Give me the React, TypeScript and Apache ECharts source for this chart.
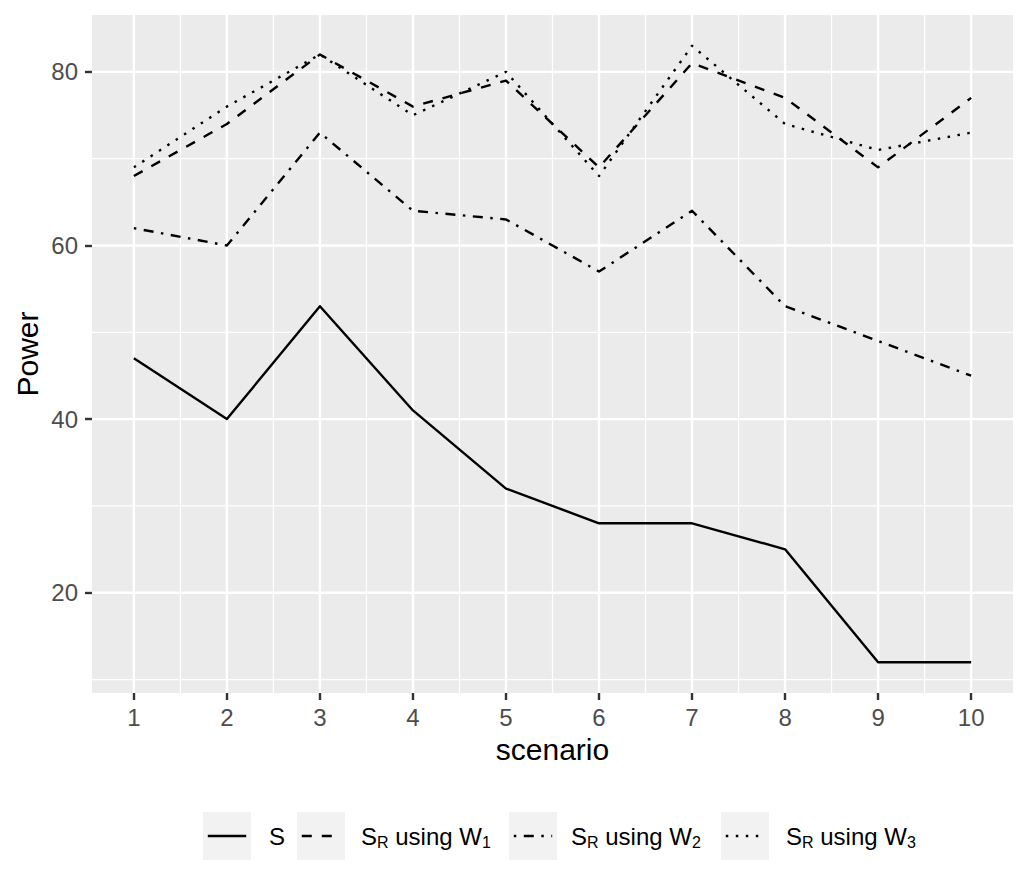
import React, { useEffect, useRef } from "react";
import * as echarts from "echarts";

// ---- data ----
const scenarios = [1, 2, 3, 4, 5, 6, 7, 8, 9, 10];
const powerS = [47, 40, 53, 41, 32, 28, 28, 25, 12, 12];
const powerW1 = [68, 74, 82, 76, 79, 69, 81, 77, 69, 77];
const powerW2 = [62, 60, 73, 64, 63, 57, 64, 53, 49, 45];
const powerW3 = [69, 76, 82, 75, 80, 68, 83, 74, 71, 73];

const xTickLabels = [1, 2, 3, 4, 5, 6, 7, 8, 9, 10];
const yTickLabels = [20, 40, 60, 80];
const xMinorGrid = [1.5, 2.5, 3.5, 4.5, 5.5, 6.5, 7.5, 8.5, 9.5];
const yMinorGrid = [10, 30, 50, 70];
const xRange = [0.55, 10.45];
const yRange = [8.45, 86.55];

const seriesNames = ["S", "S_R using W_1", "S_R using W_2", "S_R using W_3"];
const seriesValues = [powerS, powerW1, powerW2, powerW3];
const seriesDash: (number[] | null)[] = [null, [10, 10], [2.5, 7.5, 10, 7.5], [2.5, 7.5]];

const FONT = "'Liberation Sans', Arial, Helvetica, sans-serif";
const LW = 2.4;

function richLabel(name: string): string {
  // "S_R using W_1" -> rich text with subscripts
  const m = name.match(/^S_R using W_(\d)$/);
  if (!m) return `{n|${name}}`;
  return `{n|S}{s|R}{n| using W}{s|${m[1]}}`;
}

export default function App() {
  const ref = useRef<HTMLDivElement>(null);

  useEffect(() => {
    if (!ref.current) return;
    const chart = echarts.init(ref.current, undefined, { renderer: "svg" });

    const gridLeft = 92;
    const gridTop = 15;
    const gridWidth = 921;
    const gridHeight = 678;

    const vLine = (width: number) => (params: any, api: any) => {
      const cs = params.coordSys;
      const x = api.coord([api.value(0), api.value(1)])[0];
      return {
        type: "line",
        shape: { x1: x, y1: cs.y, x2: x, y2: cs.y + cs.height },
        style: { stroke: "#FFFFFF", lineWidth: width },
      };
    };
    const hLine = (width: number) => (params: any, api: any) => {
      const cs = params.coordSys;
      const y = api.coord([api.value(0), api.value(1)])[1];
      return {
        type: "line",
        shape: { x1: cs.x, y1: y, x2: cs.x + cs.width, y2: y },
        style: { stroke: "#FFFFFF", lineWidth: width },
      };
    };

    const legendKeyX = [203, 297, 509, 721];
    const legendLabelX = [269, 361, 571, 786];
    const legendY = 812;
    const keySize = 48;

    const legendGraphics: any[] = [];
    seriesNames.forEach((name, i) => {
      const kx = legendKeyX[i];
      legendGraphics.push({
        type: "rect",
        shape: { x: kx, y: legendY, width: keySize, height: keySize },
        style: { fill: "#F2F2F2" },
        silent: true,
      });
      legendGraphics.push({
        type: "line",
        shape: { x1: kx + 4.8, y1: legendY + keySize / 2, x2: kx + keySize - 4.8, y2: legendY + keySize / 2 },
        style: {
          stroke: "#000000",
          lineWidth: LW,
          lineDash: seriesDash[i] || undefined,
          lineCap: "butt",
        },
        silent: true,
      });
      legendGraphics.push({
        type: "text",
        x: legendLabelX[i],
        y: legendY + keySize / 2,
        style: {
          text: richLabel(name),
          align: "left",
          verticalAlign: "middle",
          fill: "#000000",
          rich: {
            n: { fontSize: 24, fontFamily: FONT, fill: "#000000", lineHeight: 28 },
            s: { fontSize: 16, fontFamily: FONT, fill: "#000000", lineHeight: 16, verticalAlign: "bottom" },
          },
        },
        silent: true,
      });
    });

    const option: any = {
      animation: false,
      backgroundColor: "#FFFFFF",
      grid: {
        left: gridLeft,
        top: gridTop,
        width: gridWidth,
        height: gridHeight,
        containLabel: false,
        show: true,
        backgroundColor: "#EBEBEB",
        borderWidth: 0,
      },
      xAxis: {
        type: "value",
        min: xRange[0],
        max: xRange[1],
        axisLine: { show: false },
        splitLine: { show: false },
        axisTick: {
          show: true,
          customValues: xTickLabels,
          length: 7,
          lineStyle: { color: "#333333", width: LW },
        },
        axisLabel: {
          customValues: xTickLabels,
          margin: 12,
          fontSize: 24,
          fontFamily: FONT,
          color: "#4D4D4D",
        },
      },
      yAxis: {
        type: "value",
        min: yRange[0],
        max: yRange[1],
        axisLine: { show: false },
        splitLine: { show: false },
        axisTick: {
          show: true,
          customValues: yTickLabels,
          length: 7,
          lineStyle: { color: "#333333", width: LW },
        },
        axisLabel: {
          customValues: yTickLabels,
          margin: 14,
          fontSize: 24,
          fontFamily: FONT,
          color: "#4D4D4D",
        },
      },
      series: [
        {
          type: "custom",
          name: "minor-x",
          z: 1,
          silent: true,
          renderItem: vLine(1.2),
          data: xMinorGrid.map((v) => [v, yRange[0]]),
          encode: { x: 0, y: 1 },
        },
        {
          type: "custom",
          name: "minor-y",
          z: 1,
          silent: true,
          renderItem: hLine(1.2),
          data: yMinorGrid.map((v) => [xRange[0], v]),
          encode: { x: 0, y: 1 },
        },
        {
          type: "custom",
          name: "major-x",
          z: 1,
          silent: true,
          renderItem: vLine(2.4),
          data: xTickLabels.map((v) => [v, yRange[0]]),
          encode: { x: 0, y: 1 },
        },
        {
          type: "custom",
          name: "major-y",
          z: 1,
          silent: true,
          renderItem: hLine(2.4),
          data: yTickLabels.map((v) => [xRange[0], v]),
          encode: { x: 0, y: 1 },
        },
        ...seriesNames.map((name, i) => ({
          type: "line",
          name,
          z: 3,
          data: scenarios.map((x, j) => [x, seriesValues[i][j]]),
          showSymbol: false,
          symbol: "none",
          lineStyle: {
            color: "#000000",
            width: LW,
            type: seriesDash[i] || "solid",
            cap: "butt",
            join: "round",
          },
          emphasis: { disabled: true },
        })),
      ],
      graphic: [
        {
          type: "text",
          x: gridLeft + gridWidth / 2,
          y: 749,
          style: {
            text: "scenario",
            fontSize: 30,
            fontFamily: FONT,
            fill: "#000000",
            align: "center",
            verticalAlign: "middle",
          },
          silent: true,
        },
        {
          type: "text",
          x: 27,
          y: gridTop + gridHeight / 2,
          rotation: Math.PI / 2,
          style: {
            text: "Power",
            fontSize: 30,
            fontFamily: FONT,
            fill: "#000000",
            align: "center",
            verticalAlign: "middle",
          },
          silent: true,
        },
        ...legendGraphics,
      ],
    };

    chart.setOption(option);
    return () => {
      chart.dispose();
    };
  }, []);

  return (
    <div
      ref={ref}
      style={{ position: "absolute", left: 0, top: 0, width: 1028, height: 890, background: "#FFFFFF" }}
    />
  );
}
